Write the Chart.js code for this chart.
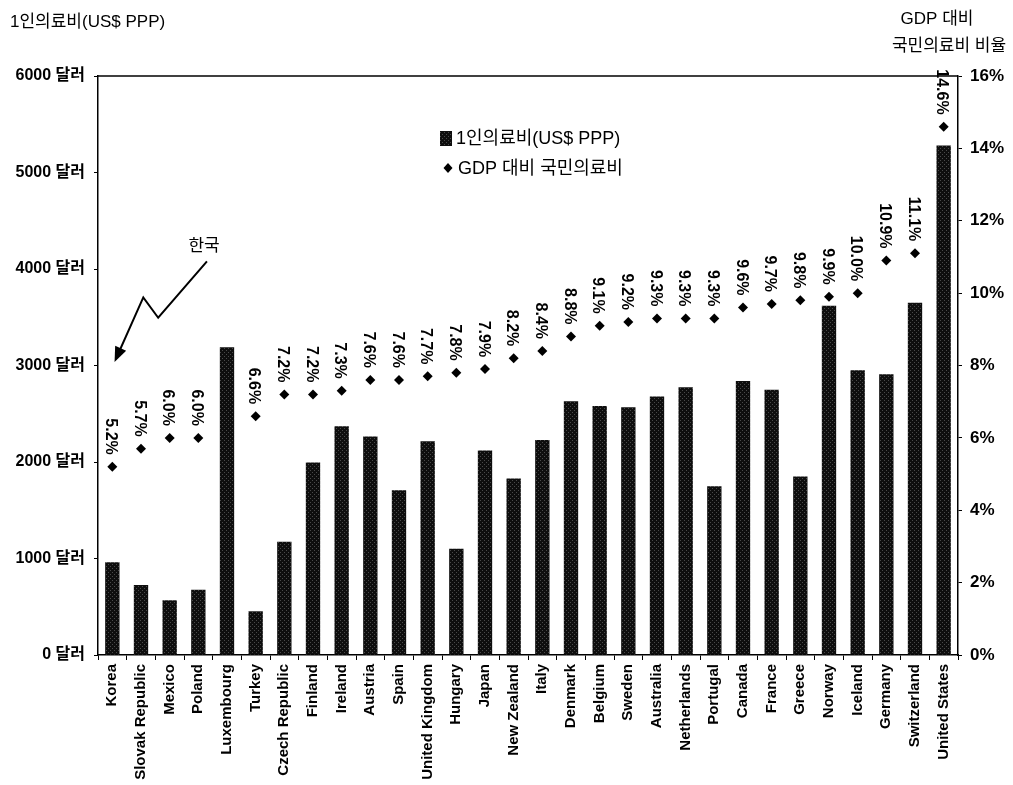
<!DOCTYPE html>
<html>
<head>
<meta charset="utf-8">
<script src="https://cdn.jsdelivr.net/npm/chart.js@4.4.1/dist/chart.umd.min.js"></script>
<style>
  html, body { margin: 0; padding: 0; background: #fff; }
  #wrap { width: 1013px; height: 785px; position: relative; }
  canvas { display: block; }
</style>
</head>
<body>
<div id="wrap"><canvas id="c" width="1013" height="785"></canvas></div>
<script>
// ---------- DATA ----------
const categories = ["Korea","Slovak Republic","Mexico","Poland","Luxembourg","Turkey","Czech Republic","Finland","Ireland","Austria","Spain","United Kingdom","Hungary","Japan","New Zealand","Italy","Denmark","Belgium","Sweden","Australia","Netherlands","Portugal","Canada","France","Greece","Norway","Iceland","Germany","Switzerland","United States"];
const perCapitaUSD = [960, 725, 567, 676, 3190, 453, 1174, 1995, 2370, 2263, 1708, 2215, 1100, 2120, 1830, 2227, 2630, 2580, 2567, 2680, 2775, 1750, 2840, 2750, 1850, 3620, 2950, 2910, 3650, 5280];
const gdpSharePct = [5.2, 5.7, 6.0, 6.0, null, 6.6, 7.2, 7.2, 7.3, 7.6, 7.6, 7.7, 7.8, 7.9, 8.2, 8.4, 8.8, 9.1, 9.2, 9.3, 9.3, 9.3, 9.6, 9.7, 9.8, 9.9, 10.0, 10.9, 11.1, 14.6];
const leftTickValues = [0, 1000, 2000, 3000, 4000, 5000, 6000];
const rightTickValues = [0, 2, 4, 6, 8, 10, 12, 14, 16];
const seriesNames = ["1인의료비(US$ PPP)", "GDP 대비 국민의료비"];
const leftAxisTitle = "1인의료비(US$ PPP)";
const rightAxisTitle = ["GDP 대비", "국민의료비 비율"];
const annotationText = "한국";

// ---------- STYLE ----------
const FONT = "'Liberation Sans', Arial, 'Noto Sans CJK KR', sans-serif";

function makeBarPattern() {
  const p = document.createElement('canvas');
  p.width = 4; p.height = 4;
  const g = p.getContext('2d');
  g.fillStyle = '#0e0e0e';
  g.fillRect(0, 0, 4, 4);
  g.fillStyle = '#4a4a4a';
  g.fillRect(0, 0, 1, 1);
  g.fillRect(2, 2, 1, 1);
  return document.getElementById('c').getContext('2d').createPattern(p, 'repeat');
}

const framePlugin = {
  id: 'frame',
  afterDraw(chart) {
    const { ctx, chartArea: a } = chart;
    ctx.save();
    ctx.strokeStyle = '#000';
    ctx.lineWidth = 1.5;
    ctx.beginPath();
    ctx.moveTo(a.left, a.top);
    ctx.lineTo(a.right, a.top);
    ctx.stroke();
    ctx.restore();
  }
};

const textPlugin = {
  id: 'texts',
  afterDraw(chart) {
    const { ctx } = chart;
    const xs = chart.scales.x, ys = chart.scales.y;
    ctx.save();
    ctx.fillStyle = '#000';
    // axis titles
    ctx.font = `17px ${FONT}`;
    ctx.textBaseline = 'middle';
    ctx.textAlign = 'left';
    ctx.fillText(leftAxisTitle, 10, 22);
    ctx.textAlign = 'center';
    ctx.fillText(rightAxisTitle[0], 937, 19);
    ctx.fillText(rightAxisTitle[1], 949, 46);

    // legend
    const lx = 440;
    ctx.fillStyle = makeBarPattern();
    ctx.fillRect(lx, 131, 12, 15);
    ctx.fillStyle = '#000';
    ctx.beginPath();
    ctx.moveTo(lx + 8, 163); ctx.lineTo(lx + 12.5, 168); ctx.lineTo(lx + 8, 173); ctx.lineTo(lx + 3.5, 168);
    ctx.closePath(); ctx.fill();
    ctx.font = `18px ${FONT}`;
    ctx.textAlign = 'left';
    ctx.fillText(seriesNames[0], lx + 16, 139);
    ctx.fillText(seriesNames[1], lx + 18, 169);

    // annotation arrow for Korea
    const px = i => xs.getPixelForValue(0) + i * (xs.getPixelForValue(1) - xs.getPixelForValue(0));
    const pts = [[3.3, 4080], [1.6, 3495], [1.08, 3705], [0.12, 3065]].map(p => [px(p[0]), ys.getPixelForValue(p[1])]);
    ctx.strokeStyle = '#000';
    ctx.lineWidth = 2;
    ctx.beginPath();
    ctx.moveTo(pts[0][0], pts[0][1]);
    for (let i = 1; i < pts.length; i++) ctx.lineTo(pts[i][0], pts[i][1]);
    ctx.stroke();
    const [tx, ty] = pts[3], [fx, fy] = pts[2];
    const ang = Math.atan2(ty - fy, tx - fx);
    ctx.beginPath();
    ctx.moveTo(tx + 3 * Math.cos(ang), ty + 3 * Math.sin(ang));
    ctx.lineTo(tx - 12 * Math.cos(ang) + 6 * Math.sin(ang), ty - 12 * Math.sin(ang) - 6 * Math.cos(ang));
    ctx.lineTo(tx - 12 * Math.cos(ang) - 6 * Math.sin(ang), ty - 12 * Math.sin(ang) + 6 * Math.cos(ang));
    ctx.closePath();
    ctx.fill();
    ctx.font = `17px ${FONT}`;
    ctx.textAlign = 'center';
    ctx.fillText(annotationText, px(3.2), ys.getPixelForValue(4235));
    ctx.restore();
  }
};

const labelPlugin = {
  id: 'pctLabels',
  afterDatasetsDraw(chart) {
    const { ctx } = chart;
    const meta = chart.getDatasetMeta(1);
    ctx.save();
    ctx.fillStyle = '#000';
    ctx.font = `bold 16px ${FONT}`;
    ctx.textAlign = 'right';
    ctx.textBaseline = 'middle';
    meta.data.forEach((pt, i) => {
      const v = gdpSharePct[i];
      if (v === null || v === undefined) return;
      ctx.save();
      ctx.translate(pt.x - 2, pt.y - 12);
      ctx.rotate(Math.PI / 2);
      ctx.fillText(v.toFixed(1) + '%', 0, 0);
      ctx.restore();
    });
    ctx.restore();
  }
};

const ctx = document.getElementById('c').getContext('2d');
new Chart(ctx, {
  data: {
    labels: categories,
    datasets: [
      {
        type: 'bar',
        label: seriesNames[0],
        data: perCapitaUSD,
        yAxisID: 'y',
        backgroundColor: makeBarPattern(),
        borderWidth: 0,
        barPercentage: 0.5,
        categoryPercentage: 1.0,
        order: 2
      },
      {
        type: 'line',
        label: seriesNames[1],
        data: gdpSharePct,
        yAxisID: 'y1',
        showLine: false,
        pointStyle: 'rectRot',
        pointRadius: 5,
        pointBackgroundColor: '#000',
        pointBorderWidth: 0,
        order: 1
      }
    ]
  },
  options: {
    responsive: false,
    animation: false,
    devicePixelRatio: 1,
    layout: { padding: { top: 76, left: 0, right: 0, bottom: 0 } },
    plugins: { legend: { display: false }, tooltip: { enabled: false }, title: { display: false } },
    scales: {
      x: {
        offset: true,
        grid: { display: true, drawOnChartArea: false, tickLength: 5, color: '#000', offset: true, lineWidth: 1 },
        border: { color: '#000', width: 1.5 },
        ticks: { autoSkip: false, minRotation: 90, maxRotation: 90, color: '#000', padding: 4, font: { family: FONT, size: 15, weight: 'bold' } },
        afterFit: s => { s.height = 130; }
      },
      y: {
        position: 'left',
        min: 0, max: 6000,
        afterBuildTicks: s => { s.ticks = leftTickValues.map(v => ({ value: v })); },
        grid: { display: true, drawOnChartArea: false, tickLength: 4, color: '#000' },
        border: { color: '#000', width: 1.5 },
        ticks: { color: '#000', padding: 9, font: { family: FONT, size: 16, weight: 'bold' }, callback: v => v + ' 달러' },
        afterFit: s => { s.width = 98; }
      },
      y1: {
        position: 'right',
        min: 0, max: 16,
        afterBuildTicks: s => { s.ticks = rightTickValues.map(v => ({ value: v })); },
        grid: { display: true, drawOnChartArea: false, tickLength: 4, color: '#000' },
        border: { color: '#000', width: 1.5 },
        ticks: { color: '#000', padding: 8, font: { family: FONT, size: 17, weight: 'bold' }, callback: v => v + '%' },
        afterFit: s => { s.width = 55; }
      }
    }
  },
  plugins: [framePlugin, labelPlugin, textPlugin]
});
</script>
</body>
</html>
